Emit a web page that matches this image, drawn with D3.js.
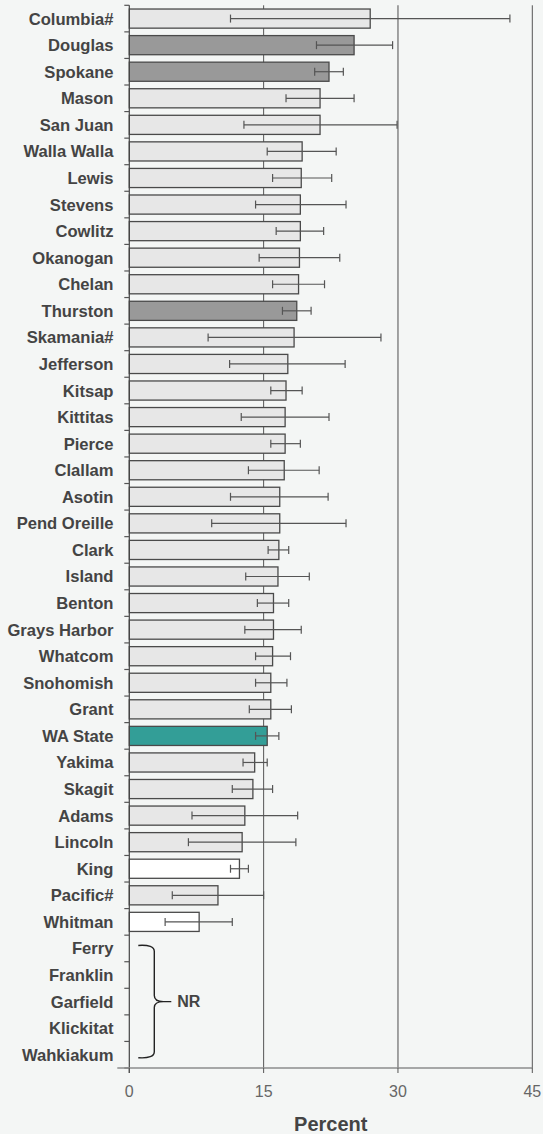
<!DOCTYPE html>
<html>
<head>
<meta charset="utf-8">
<script src="https://cdn.jsdelivr.net/npm/d3@7"></script>
<style>
  html, body { margin: 0; padding: 0; background: #f4f6f5; }
  svg { display: block; }
</style>
</head>
<body>
<div id="chart"></div>
<script>
const counties = ["Columbia#","Douglas","Spokane","Mason","San Juan","Walla Walla","Lewis","Stevens","Cowlitz","Okanogan","Chelan","Thurston","Skamania#","Jefferson","Kitsap","Kittitas","Pierce","Clallam","Asotin","Pend Oreille","Clark","Island","Benton","Grays Harbor","Whatcom","Snohomish","Grant","WA State","Yakima","Skagit","Adams","Lincoln","King","Pacific#","Whitman","Ferry","Franklin","Garfield","Klickitat","Wahkiakum"];
const values = [26.9,25.1,22.3,21.3,21.3,19.3,19.2,19.1,19.1,19.0,18.9,18.7,18.4,17.7,17.5,17.4,17.4,17.3,16.8,16.8,16.7,16.6,16.1,16.1,16.0,15.8,15.8,15.4,14.0,13.8,12.9,12.6,12.3,9.9,7.8,null,null,null,null,null];
const lower = [11.3,20.9,20.7,17.5,12.8,15.4,16.0,14.1,16.4,14.5,16.0,17.1,8.8,11.2,15.8,12.5,15.8,13.3,11.3,9.2,15.5,13.0,14.3,12.9,14.1,14.1,13.4,14.1,12.7,11.5,7.0,6.6,11.3,4.8,4.0,null,null,null,null,null];
const upper = [42.5,29.4,23.9,25.1,29.9,23.1,22.6,24.2,21.7,23.5,21.8,20.3,28.1,24.1,19.3,22.3,19.1,21.2,22.2,24.2,17.8,20.1,17.8,19.2,18.0,17.6,18.1,16.7,15.4,16.0,18.8,18.6,13.3,15.0,11.5,null,null,null,null,null];
const groups = ["light","dark","dark","light","light","light","light","light","light","light","light","dark","light","light","light","light","light","light","light","light","light","light","light","light","light","light","light","state","light","light","light","light","white","light","white","nr","nr","nr","nr","nr"];
const xTicks = [0, 15, 30, 45];
const nrLabel = "NR";
const xTitle = "Percent";

const W = 543, H = 1134;
const plotLeft = 129.3, plotRight = 532.3, plotTop = 5.3, plotBottom = 1068;

const fills = { light: "#e7e7e7", dark: "#999999", state: "#339e97", white: "#ffffff" };

const svg = d3.select("#chart").append("svg").attr("width", W).attr("height", H);
svg.append("rect").attr("width", W).attr("height", H).attr("fill", "#f4f6f5");

const x = d3.scaleLinear().domain([0, 45]).range([plotLeft, plotRight]);
const y = d3.scaleBand().domain(counties).range([plotTop, plotBottom]).paddingInner(0.28).paddingOuter(0.14);
const step = y.step();

const data = counties.map((c, i) => ({ c, v: values[i], lo: lower[i], hi: upper[i], g: groups[i] }));

// gridlines
svg.append("g").selectAll("line").data(xTicks.filter(d => d > 0)).join("line")
  .attr("x1", d => x(d)).attr("x2", d => x(d))
  .attr("y1", plotTop).attr("y2", plotBottom)
  .attr("stroke", d => d === 30 ? "#8c8c8c" : "#555")
  .attr("stroke-width", d => d === 30 ? 1.6 : 1);

// bars
const bars = data.filter(d => d.v != null);
svg.append("g").selectAll("rect").data(bars).join("rect")
  .attr("x", x(0))
  .attr("y", d => y(d.c))
  .attr("width", d => x(d.v) - x(0))
  .attr("height", y.bandwidth())
  .attr("fill", d => fills[d.g])
  .attr("stroke", "#4a4a4a")
  .attr("stroke-width", 1.3);

// error bars
const eb = svg.append("g").attr("stroke", "#555").attr("stroke-width", 1.2);
bars.forEach(d => {
  const cy = y(d.c) + y.bandwidth() / 2;
  eb.append("line").attr("x1", x(d.lo)).attr("x2", x(d.hi)).attr("y1", cy).attr("y2", cy);
  eb.append("line").attr("x1", x(d.lo)).attr("x2", x(d.lo)).attr("y1", cy - 4).attr("y2", cy + 4);
  eb.append("line").attr("x1", x(d.hi)).attr("x2", x(d.hi)).attr("y1", cy - 4).attr("y2", cy + 4);
});

// y axis line and ticks at band boundaries
svg.append("line").attr("x1", x(0)).attr("x2", x(0)).attr("y1", plotTop).attr("y2", plotBottom + 5)
  .attr("stroke", "#444").attr("stroke-width", 1.2);
const bounds = [plotTop].concat(counties.map(c => y(c) + y.bandwidth() + step * 0.14));
svg.append("g").selectAll("line").data(bounds).join("line")
  .attr("x1", x(0) - 5).attr("x2", x(0))
  .attr("y1", d => d).attr("y2", d => d)
  .attr("stroke", "#555").attr("stroke-width", 1.2);

// category labels
svg.append("g").selectAll("text").data(counties).join("text")
  .attr("x", 113.5)
  .attr("y", d => y(d) + y.bandwidth() / 2)
  .attr("dy", "0.36em")
  .attr("text-anchor", "end")
  .attr("font-family", "'Liberation Sans', Arial, sans-serif")
  .attr("font-weight", "bold")
  .attr("font-size", 16.6)
  .attr("fill", "#444")
  .text(d => d);

// x axis
svg.append("line").attr("x1", x(0) - 12).attr("x2", x(45)).attr("y1", plotBottom).attr("y2", plotBottom)
  .attr("stroke", "#8c8c8c").attr("stroke-width", 1.6);
svg.append("g").selectAll("line").data(xTicks).join("line")
  .attr("x1", d => x(d)).attr("x2", d => x(d))
  .attr("y1", plotBottom).attr("y2", plotBottom + 5)
  .attr("stroke", "#555").attr("stroke-width", 1);
svg.append("g").selectAll("text").data(xTicks).join("text")
  .attr("x", d => x(d)).attr("y", plotBottom + 29)
  .attr("text-anchor", "middle")
  .attr("font-family", "'Liberation Sans', Arial, sans-serif")
  .attr("font-size", 16)
  .attr("fill", "#666")
  .text(d => d);

svg.append("text").attr("x", (x(0) + x(45)) / 2).attr("y", 1131)
  .attr("text-anchor", "middle")
  .attr("font-family", "'Liberation Sans', Arial, sans-serif")
  .attr("font-weight", "bold").attr("font-size", 20).attr("fill", "#444")
  .text(xTitle);

// NR brace
const nr = data.filter(d => d.g === "nr").map(d => d.c);
const yA = y(nr[0]) + y.bandwidth() / 2 - 3;
const yB = y(nr[nr.length - 1]) + y.bandwidth() / 2 + 3;
const yM = (yA + yB) / 2;
const bx0 = x(0) + 9, bx1 = x(0) + 25, bx2 = x(0) + 42;
const bracePath = `M${bx0},${yA} Q${bx1},${yA - 1} ${bx1},${yA + 6} L${bx1},${yM - 6} Q${bx1},${yM} ${bx2 - 8},${yM} L${bx2},${yM} M${bx2 - 8},${yM} Q${bx1},${yM} ${bx1},${yM + 6} L${bx1},${yB - 6} Q${bx1},${yB + 1} ${bx0},${yB}`;
svg.append("path").attr("d", bracePath).attr("fill", "none").attr("stroke", "#222").attr("stroke-width", 1.4);
svg.append("text").attr("x", bx2 + 6).attr("y", yM).attr("dy", "0.36em")
  .attr("font-family", "'Liberation Sans', Arial, sans-serif")
  .attr("font-weight", "bold").attr("font-size", 16).attr("fill", "#444")
  .text(nrLabel);
</script>
</body>
</html>
